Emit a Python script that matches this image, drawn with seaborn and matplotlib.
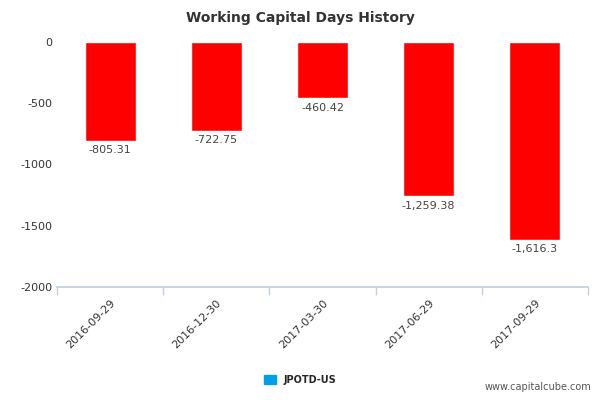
import matplotlib

matplotlib.use("Agg")

import matplotlib.pyplot as plt
import pandas as pd
import seaborn as sns
from matplotlib.patches import Patch

sns.set_theme(style="white")
plt.rcParams["font.family"] = ["DejaVu Sans"]

dates = ["2016-09-29", "2016-12-30", "2017-03-30", "2017-06-29", "2017-09-29"]
values = [-805.31, -722.75, -460.42, -1259.38, -1616.3]
labels = ["-805.31", "-722.75", "-460.42", "-1,259.38", "-1,616.3"]

df = pd.DataFrame({"date": dates, "value": values})

fig = plt.figure(figsize=(6, 4), dpi=100)
ax = fig.add_axes([0.095, 0.2825, 0.885, 0.6125])
sns.barplot(data=df, x="date", y="value", color="#ff0000", width=0.48, saturation=1, ax=ax)

for i, (v, lab) in enumerate(zip(values, labels)):
    ax.text(i, v - 35, lab, ha="center", va="top", fontsize=8, color="#444444")

ax.set_ylim(-2000, 0)
ax.set_yticks([0, -500, -1000, -1500, -2000])
ax.set_yticklabels(["0", "-500", "-1000", "-1500", "-2000"], fontsize=8, color="#333333")
ax.set_xlim(-0.5, 4.5)
ax.set_xticks([-0.5, 0.5, 1.5, 2.5, 3.5, 4.5], minor=True)
ax.set_xticks(range(5))
ax.set_xticklabels(dates, rotation=45, ha="right", rotation_mode="anchor", fontsize=8, color="#333333")
ax.tick_params(axis="x", which="major", length=0, pad=8)
ax.tick_params(axis="x", which="minor", length=6, color="#c0d0e0", direction="out", bottom=True)
ax.tick_params(axis="y", length=0)
ax.set_xlabel("")
ax.set_ylabel("")
for side in ["top", "right", "left"]:
    ax.spines[side].set_visible(False)
ax.spines["bottom"].set_color("#c0d0e0")

fig.text(0.5, 0.955, "Working Capital Days History", ha="center", va="center",
         fontsize=10, fontweight="bold", color="#333333")
fig.legend(handles=[Patch(color="#00a0e8", label="JPOTD-US")], loc="center",
           bbox_to_anchor=(0.5, 0.05), frameon=False, fontsize=7,
           handlelength=1.2, handleheight=1.0, prop={"weight": "bold", "size": 7})
fig.text(0.985, 0.02, "www.capitalcube.com", ha="right", va="bottom", fontsize=7, color="#555555")

fig.savefig("out.png", dpi=100)
